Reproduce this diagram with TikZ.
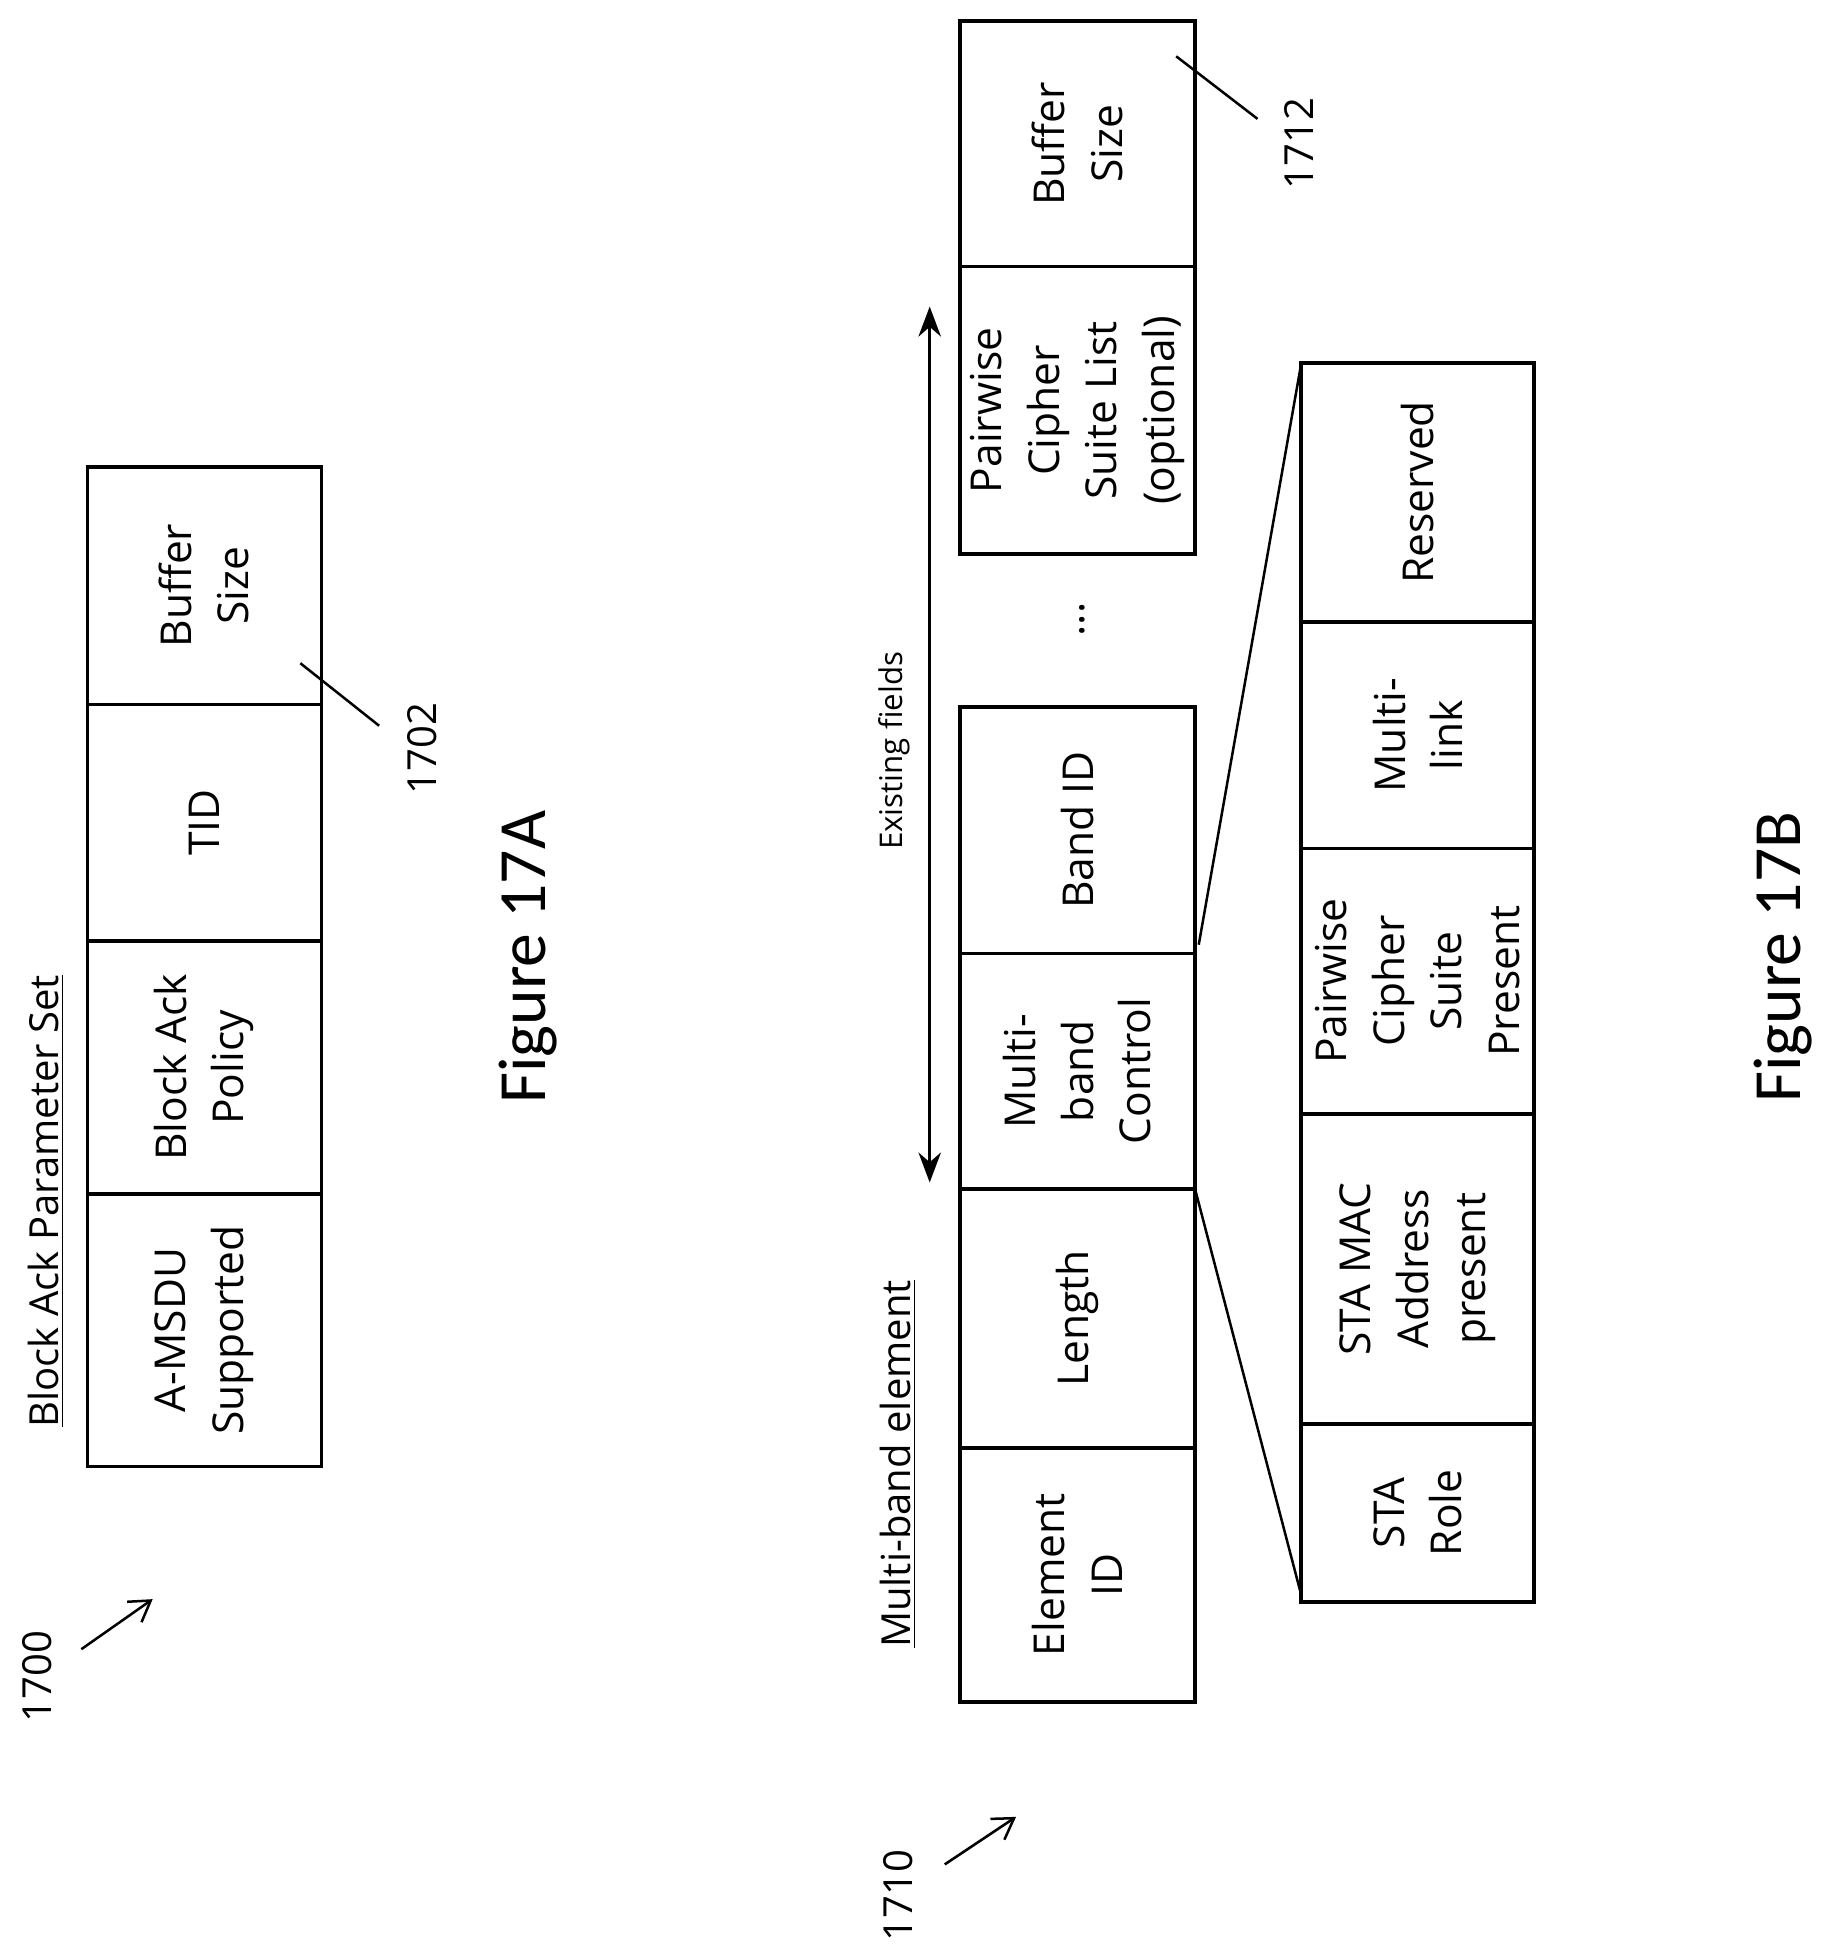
\documentclass[tikz,border=0pt]{standalone}
\usetikzlibrary{arrows.meta}
\usepackage{fontspec}
\setmainfont{Open Sans}
\newfontfamily\figfont{Carlito}
\begin{document}
\begin{tikzpicture}[x=0.5pt,y=-0.5pt,
 box/.style={draw,line width=1.5pt},
 txt/.style={rotate=90,align=center,font=\fontsize{17}{23}\selectfont},
 lbl/.style={rotate=90,font=\fontsize{16}{19}\selectfont},
 fig/.style={rotate=90,font=\figfont\fontsize{27}{30}\selectfont},
 ln/.style={line width=1pt},
 arr/.style={line width=1pt,-{Straight Barb[length=8pt,width=10pt]}}]
\useasboundingbox (0,0) rectangle (1470,1560);
% Figure 17A
\foreach \a/\b/\t [count=\i] in {373/563/{Buffer\\Size},563/752/TID,752/954/{Block Ack\\Policy},954/1172/{A-MSDU\\Supported}}{
 \draw[box] (70,\a) rectangle (257,\b);
 \node[txt] (a\i) at (163,{(\a+\b)/2}) {\t};}
\node[lbl] (tA) at (37,960) {\underline{Block Ack Parameter Set}};
\coordinate (l1a) at (240,530); \coordinate (l1b) at (303,580);
\draw[ln] (l1a) -- (l1b);
\node[lbl] (n1702) at (337,598) {1702};
\node[lbl] (n1700) at (30,1340) {1700};
\coordinate (r1a) at (65,1318); \coordinate (r1b) at (122,1278);
\draw[arr] (r1a) -- (r1b);
\node[fig] (f17a) at (422,765) {Figure 17A};
% Figure 17B main
\foreach \a/\b/\t [count=\i] in {17/213/{Buffer\\Size},213/443/{Pairwise\\Cipher\\Suite List\\(optional)},565/762/Band ID,762/950/{Multi-\\band\\Control},950/1157/Length,1157/1360/{Element\\ID}}{
 \draw[box] (767,\a) rectangle (955,\b);
 \node[txt] (b\i) at (861,{(\a+\b)/2}) {\t};}
\node[txt] (dots) at (865,495) {...};
\node[lbl] (tB) at (718,1170) {\underline{Multi-band element}};
\coordinate (e1) at (743,245); \coordinate (e2) at (743,945);
\draw[line width=1pt,{Stealth[length=12pt,width=9pt]}-{Stealth[length=12pt,width=9pt]}] (e1) -- (e2);
\node[rotate=90,font=\fontsize{12.5}{15}\selectfont] (ef) at (715,600) {Existing fields};
% sub fields
\foreach \a/\b/\t [count=\i] in {290/497/{Reserved},497/678/{Multi-\\link},678/890/{Pairwise\\Cipher\\Suite\\Present},890/1138/{STA MAC\\Address\\present},1138/1280/{STA\\Role}}{
 \draw[box] (1040,\a) rectangle (1226,\b);
 \node[txt] (c\i) at (1133,{(\a+\b)/2}) {\t};}
\coordinate (x1) at (955,950); \coordinate (x2) at (1040,1275);
\coordinate (x3) at (958,755); \coordinate (x4) at (1040,290);
\draw[ln] (x1) -- (x2); \draw[ln] (x3) -- (x4);
\coordinate (l2a) at (940,45); \coordinate (l2b) at (1005,95);
\draw[ln] (l2a) -- (l2b);
\node[lbl] (n1712) at (1038,115) {1712};
\node[lbl] (n1710) at (718,1515) {1710};
\coordinate (r2a) at (755,1490); \coordinate (r2b) at (812,1452);
\draw[arr] (r2a) -- (r2b);
\node[fig] (f17b) at (1425,765) {Figure 17B};
\end{tikzpicture}
\end{document}
